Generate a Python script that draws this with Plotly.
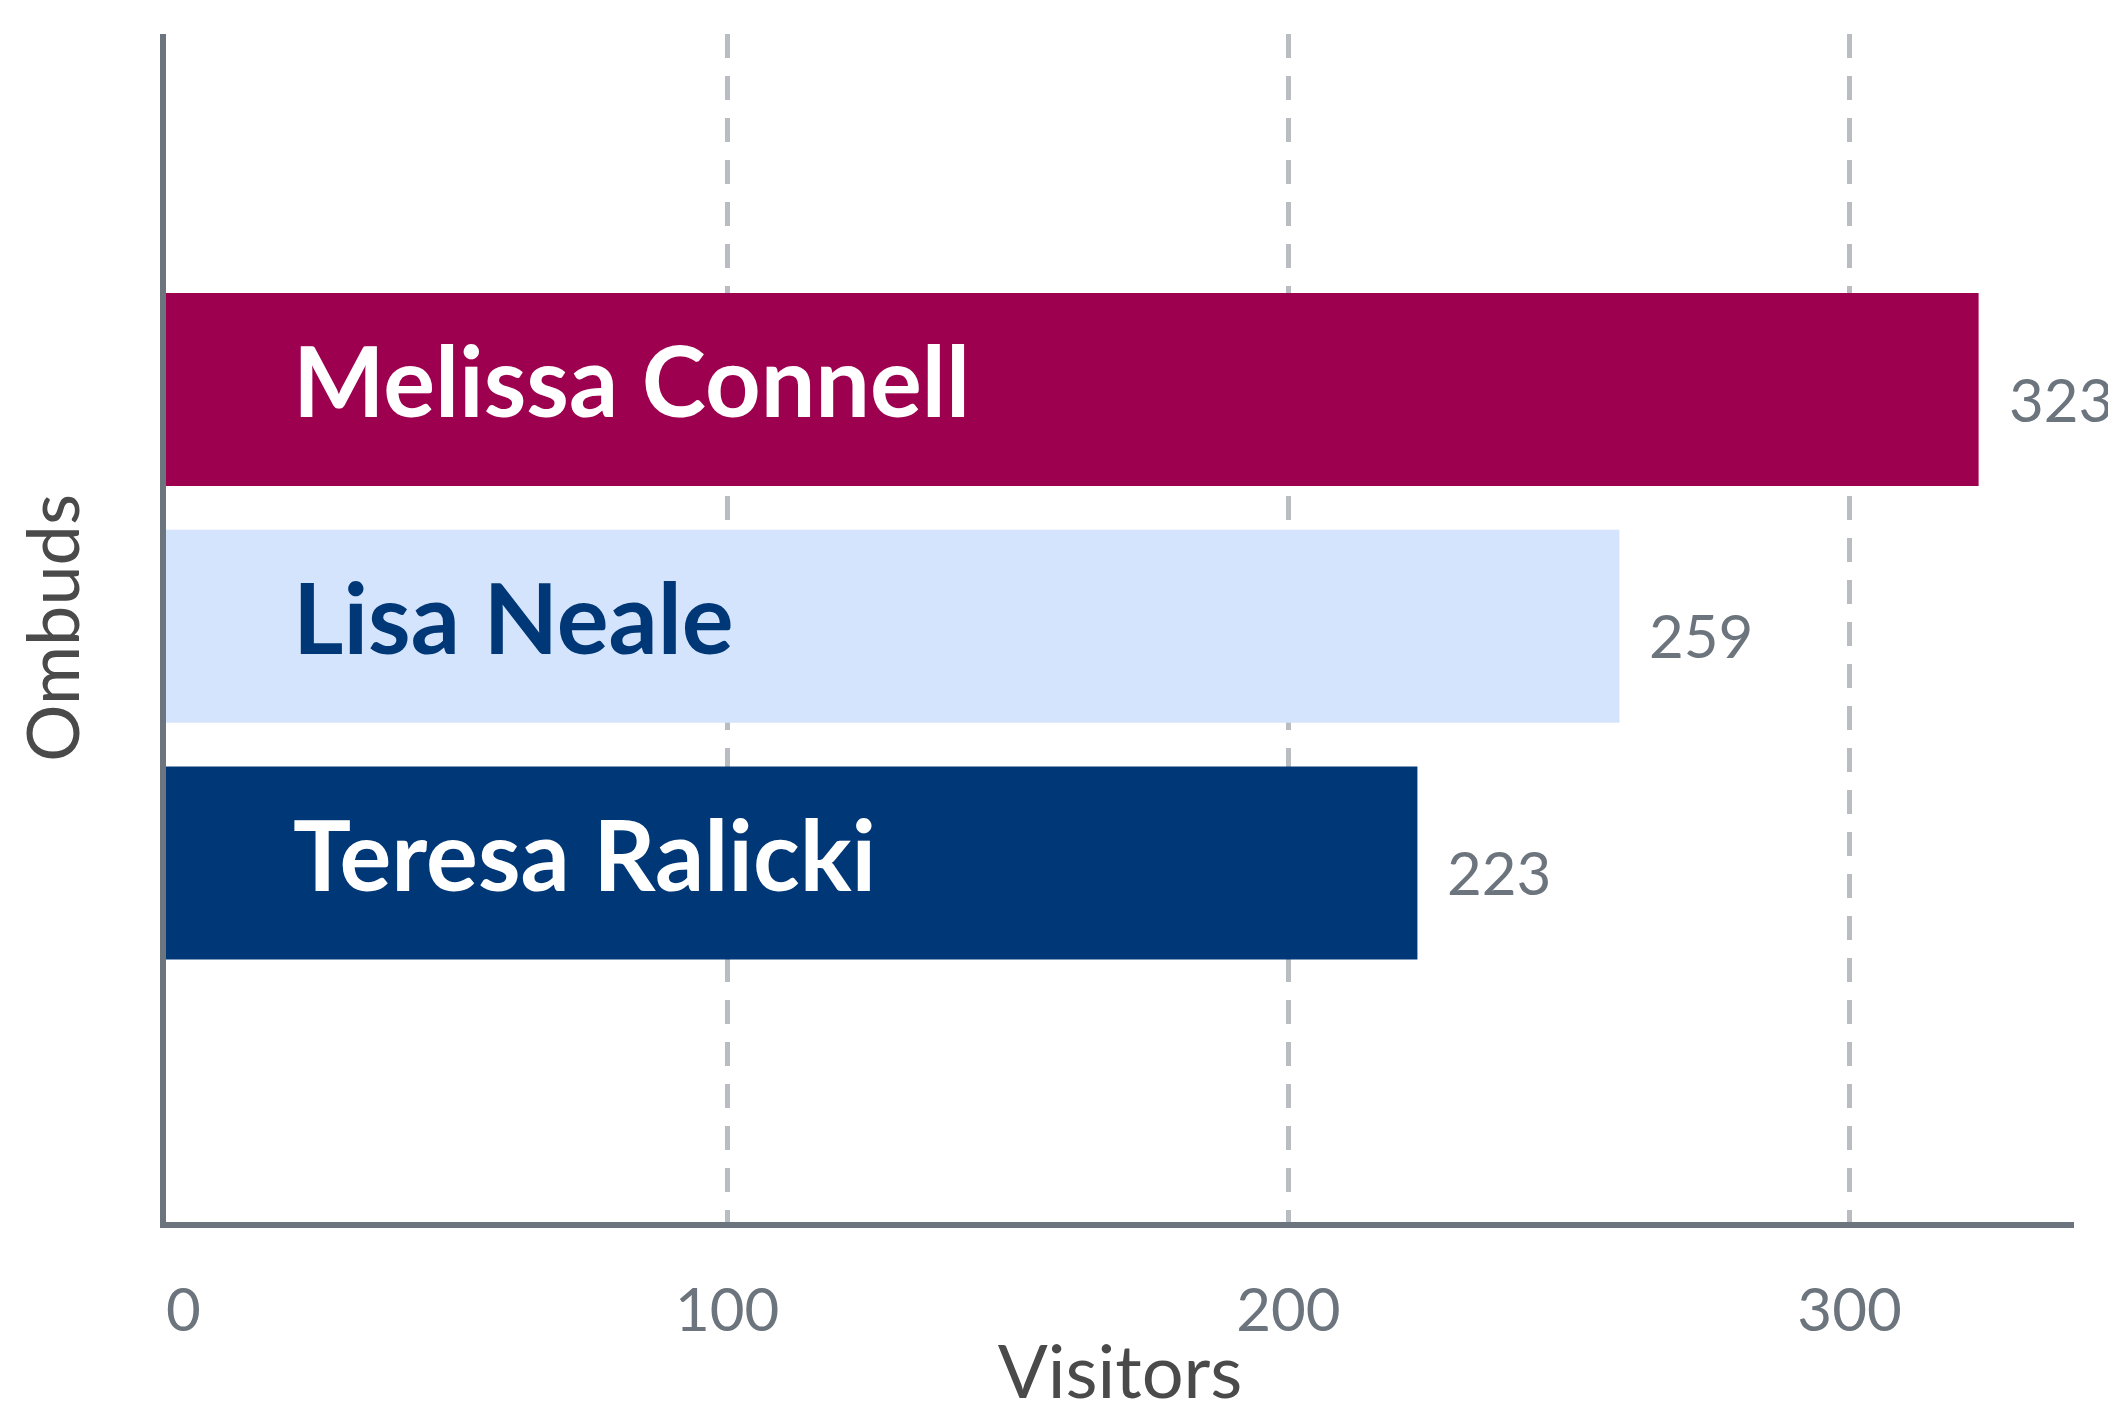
import plotly.graph_objects as go

# Data
names = ["Melissa Connell", "Lisa Neale", "Teresa Ralicki"]
visitors = [323, 259, 223]
bar_colors = ["#9e0050", "#d4e4fc", "#003776"]
name_colors = ["#ffffff", "#003776", "#ffffff"]
tick_vals = [0, 100, 200, 300]
tick_text = ["\u20070", "100", "200", "300"]

FONT = "Lato"
GRAY = "#6c757d"

fig = go.Figure()
fig.add_trace(go.Bar(
    x=visitors,
    y=names,
    orientation="h",
    marker=dict(color=bar_colors, line=dict(width=0)),
    width=0.815,
    hoverinfo="x+y",
    showlegend=False,
))

annotations = []
for n, v, c in zip(names, visitors, name_colors):
    annotations.append(dict(
        x=0, y=n, xref="x", yref="y", text=n, showarrow=False,
        xanchor="left", yanchor="middle", xshift=125, yshift=10,
        font=dict(family=FONT, size=97, color=c, weight="bold"),
    ))
    annotations.append(dict(
        x=v, y=n, xref="x", yref="y", text=str(v), showarrow=False,
        xanchor="left", yanchor="middle", xshift=28, yshift=-9,
        font=dict(family=FONT, size=60, color=GRAY),
    ))

fig.update_layout(
    width=2116, height=1406,
    margin=dict(l=158, r=50, t=26, b=192, autoexpand=False),
    paper_bgcolor="white", plot_bgcolor="white",
    font=dict(family=FONT, color=GRAY),
    bargap=0.2,
    annotations=annotations,
)

fig.update_xaxes(
    range=[0, 340],
    tickvals=tick_vals, ticktext=tick_text,
    tickfont=dict(family=FONT, size=60, color=GRAY),
    ticks="", ticklabelstandoff=31,
    showgrid=True, gridcolor="#b9bcc0", gridwidth=5, griddash="24px,18px",
    zeroline=False,
    showline=True, linecolor=GRAY, linewidth=6,
    title=dict(text="Visitors", font=dict(family=FONT, size=74, color="#4a4a4a"), standoff=24),
    automargin=False,
)
fig.update_yaxes(
    type="category",
    categoryorder="array", categoryarray=names,
    range=[3.516, -1.502],
    showticklabels=False, ticks="",
    showgrid=False, zeroline=False,
    showline=True, linecolor=GRAY, linewidth=6,
    title=dict(text="Ombuds", font=dict(family=FONT, size=72, color="#4a4a4a"), standoff=60),
    automargin=False,
)

fig.write_html("out.html")
